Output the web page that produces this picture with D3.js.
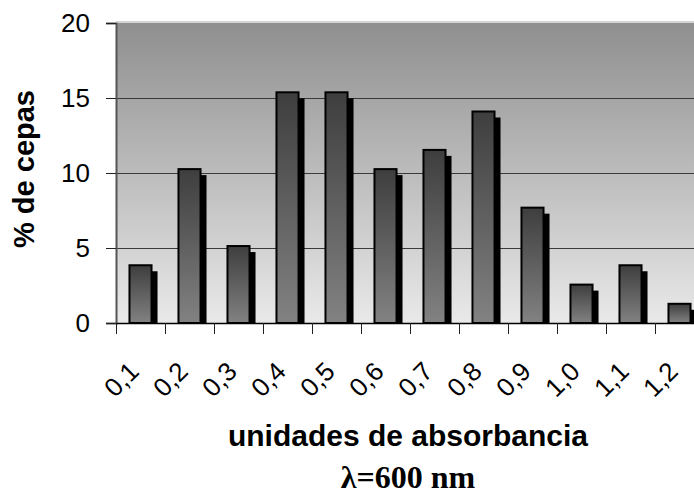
<!DOCTYPE html>
<html>
<head>
<meta charset="utf-8">
<script src="https://cdn.jsdelivr.net/npm/d3@7"></script>
<style>
  html, body { margin: 0; padding: 0; background: #fff; overflow: hidden; }
  svg { display: block; }
</style>
</head>
<body>
<div id="chart"></div>
<script>
// categories (absorbance units) and % of strains
const categories = ["0,1", "0,2", "0,3", "0,4", "0,5", "0,6", "0,7", "0,8", "0,9", "1,0", "1,1", "1,2"];
const values = [3.85, 10.26, 5.13, 15.38, 15.38, 10.26, 11.54, 14.10, 7.69, 2.56, 3.85, 1.28];
const yTicks = [0, 5, 10, 15, 20];

const W = 694, H = 495;
const margin = { top: 23, left: 116, bottom: 172 };
const plotW = 588; // runs past the right edge like the original
const plotH = H - margin.top - margin.bottom;
const sans = "'Liberation Sans', Arial, sans-serif";

const svg = d3.select("#chart").append("svg")
  .attr("width", W)
  .attr("height", H);

const defs = svg.append("defs");

const bg = defs.append("linearGradient")
  .attr("id", "bg").attr("x1", 0).attr("y1", 0).attr("x2", 0).attr("y2", 1);
bg.append("stop").attr("offset", "0%").attr("stop-color", "#8f8f8f");
bg.append("stop").attr("offset", "100%").attr("stop-color", "#e9e9e9");

const barGrad = defs.append("linearGradient")
  .attr("id", "barGrad").attr("x1", 0).attr("y1", 0).attr("x2", 0).attr("y2", 1);
barGrad.append("stop").attr("offset", "0%").attr("stop-color", "#3e3e3e");
barGrad.append("stop").attr("offset", "100%").attr("stop-color", "#828282");

const x = d3.scaleBand()
  .domain(categories)
  .range([margin.left, margin.left + plotW])
  .paddingInner(0.55)
  .paddingOuter(0.275);

const y = d3.scaleLinear()
  .domain([0, 20])
  .range([margin.top + plotH, margin.top]);

// plot background
svg.append("rect")
  .attr("x", margin.left)
  .attr("y", margin.top)
  .attr("width", plotW)
  .attr("height", plotH)
  .attr("fill", "url(#bg)");

svg.append("line")
  .attr("x1", margin.left).attr("x2", margin.left + plotW)
  .attr("y1", margin.top - 1).attr("y2", margin.top - 1)
  .attr("stroke", "#d4d4d4").attr("stroke-width", 2);

// gridlines
svg.append("g")
  .selectAll("line")
  .data(yTicks.filter(d => d > 0 && d < 20))
  .join("line")
  .attr("x1", margin.left).attr("x2", margin.left + plotW)
  .attr("y1", d => y(d) + 0.5).attr("y2", d => y(d) + 0.5)
  .attr("stroke", "#3a3a3a").attr("stroke-width", 1);

// clip so shadows stop at the axis
const clip = defs.append("clipPath").attr("id", "plotClip");
clip.append("rect")
  .attr("x", margin.left).attr("y", 0)
  .attr("width", plotW).attr("height", y(0));

const bars = svg.append("g").attr("clip-path", "url(#plotClip)");

bars.selectAll(".shadow")
  .data(values)
  .join("rect")
  .attr("class", "shadow")
  .attr("x", (d, i) => x(categories[i]) + 6)
  .attr("y", d => y(d) + 6)
  .attr("width", x.bandwidth())
  .attr("height", d => y(0) - y(d))
  .attr("fill", "#000");

bars.selectAll(".bar")
  .data(values)
  .join("rect")
  .attr("class", "bar")
  .attr("x", (d, i) => x(categories[i]))
  .attr("y", d => y(d))
  .attr("width", x.bandwidth())
  .attr("height", d => y(0) - y(d))
  .attr("fill", "url(#barGrad)")
  .attr("stroke", "#000")
  .attr("stroke-width", 2);

// y axis
const yAxis = svg.append("g")
  .attr("transform", `translate(${margin.left},0)`)
  .call(d3.axisLeft(y).tickValues(yTicks).tickSize(10).tickPadding(16).tickFormat(d3.format("d")));
yAxis.select(".domain").attr("stroke", "#555").attr("stroke-width", 2);
yAxis.selectAll(".tick line").attr("stroke", "#222");
yAxis.selectAll("text")
  .attr("font-family", sans)
  .attr("font-size", 26)
  .attr("fill", "#000");

// x axis
const xAxis = svg.append("g")
  .attr("transform", `translate(0,${y(0)})`)
  .call(d3.axisBottom(x).tickSize(0).tickFormat(""));
xAxis.select(".domain").attr("stroke", "#000").attr("stroke-width", 1.5);

// category boundary ticks
svg.append("g")
  .selectAll("line")
  .data(categories)
  .join("line")
  .attr("x1", d => x(d) - x.step() * x.paddingOuter() + 0.5)
  .attr("x2", d => x(d) - x.step() * x.paddingOuter() + 0.5)
  .attr("y1", y(0))
  .attr("y2", y(0) + 11)
  .attr("stroke", "#222");

// rotated category labels
svg.append("g")
  .selectAll("text")
  .data(categories)
  .join("text")
  .attr("transform", d => `translate(${x(d) + x.bandwidth() / 2},${y(0) + 50}) rotate(-45)`)
  .attr("text-anchor", "end")
  .attr("font-family", sans)
  .attr("font-size", 26)
  .attr("fill", "#000")
  .text(d => d);

// axis titles
svg.append("text")
  .attr("transform", `translate(34,169) rotate(-90)`)
  .attr("text-anchor", "middle")
  .attr("font-family", sans)
  .attr("font-weight", "bold")
  .attr("font-size", 29)
  .text("% de cepas");

svg.append("text")
  .attr("x", 408)
  .attr("y", 446)
  .attr("text-anchor", "middle")
  .attr("font-family", sans)
  .attr("font-weight", "bold")
  .attr("font-size", 30)
  .text("unidades de absorbancia");

svg.append("text")
  .attr("x", 408)
  .attr("y", 488)
  .attr("text-anchor", "middle")
  .attr("font-family", "'Liberation Serif', 'Times New Roman', serif")
  .attr("font-weight", "bold")
  .attr("font-size", 32)
  .text("λ=600 nm");
</script>
</body>
</html>
